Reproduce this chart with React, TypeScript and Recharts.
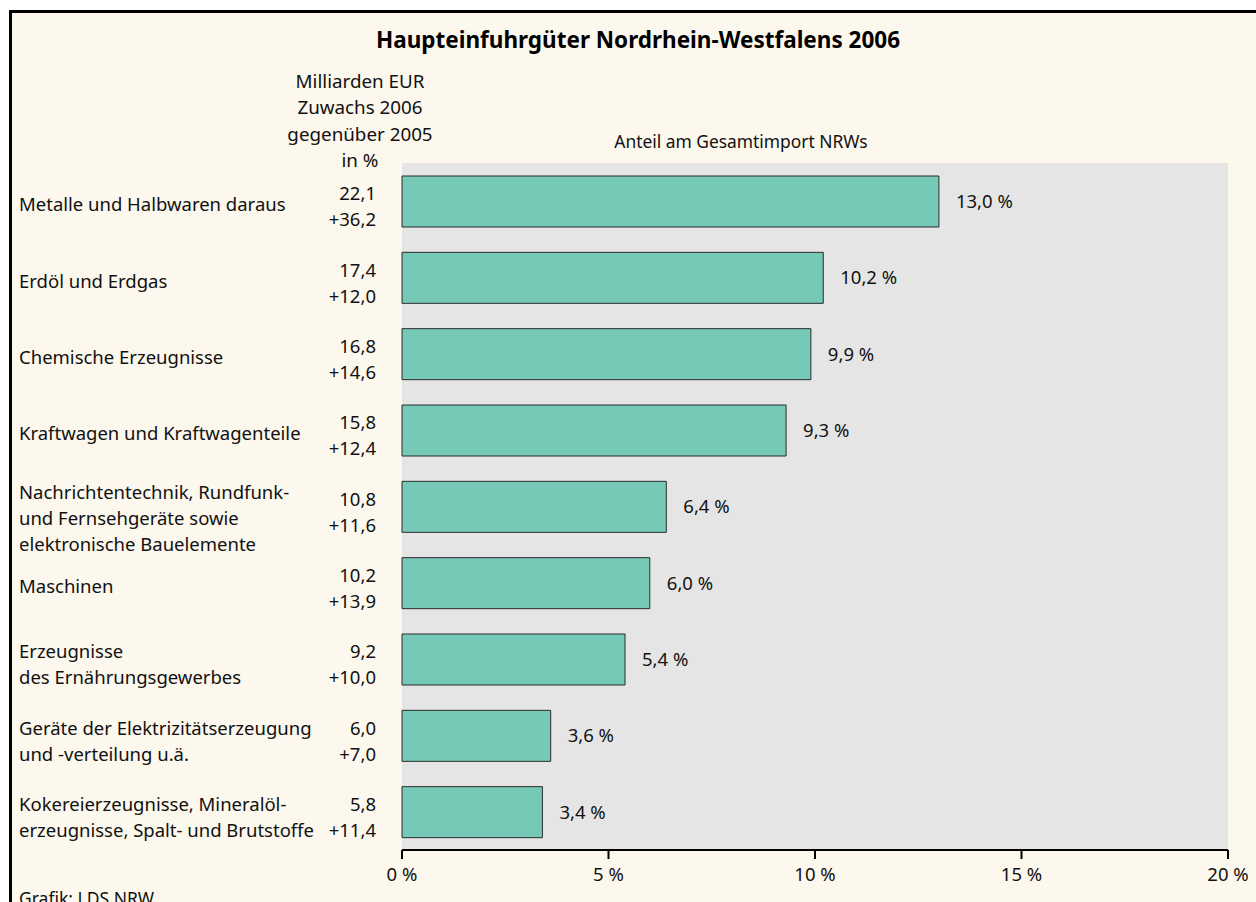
import React from 'react';
import { BarChart, Bar, XAxis, YAxis, CartesianGrid, LabelList } from 'recharts';

const categories: string[] = [
  'Metalle und Halbwaren daraus',
  'Erdöl und Erdgas',
  'Chemische Erzeugnisse',
  'Kraftwagen und Kraftwagenteile',
  'Nachrichtentechnik, Rundfunk-|und Fernsehgeräte sowie|elektronische Bauelemente',
  'Maschinen',
  'Erzeugnisse|des Ernährungsgewerbes',
  'Geräte der Elektrizitätserzeugung|und -verteilung u.ä.',
  'Kokereierzeugnisse, Mineralöl-|erzeugnisse, Spalt- und Brutstoffe',
];
const shares: number[] = [13.0, 10.2, 9.9, 9.3, 6.4, 6.0, 5.4, 3.6, 3.4];
const billionsEUR: string[] = ['22,1', '17,4', '16,8', '15,8', '10,8', '10,2', '9,2', '6,0', '5,8'];
const growth: string[] = ['+36,2', '+12,0', '+14,6', '+12,4', '+11,6', '+13,9', '+10,0', '+7,0', '+11,4'];
const xTicks: number[] = [0, 5, 10, 15, 20];
const headerLines: string[] = ['Milliarden EUR', 'Zuwachs 2006', 'gegenüber 2005', 'in %'];

const data = categories.map((name, i) => ({
  name,
  share: shares[i],
  eur: billionsEUR[i],
  growth: growth[i],
}));

const FONT = '"Noto Sans", "Open Sans", sans-serif';
const FS = 18.5;
const TEXT = '#111';

const fmt = (v: number) => v.toFixed(1).replace('.', ',');

const CategoryTick = (props: any) => {
  const { y, payload } = props;
  const row = data.find((d) => d.name === payload.value);
  if (!row) return null;
  const lines = row.name.split('|');
  const n = lines.length;
  let first: number;
  if (n === 1) first = 10;
  else if (n === 2) first = -1;
  else first = -8;
  return (
    <g>
      {lines.map((l, i) => (
        <text key={i} x={19} y={y + first + i * 26} fontSize={FS} fontFamily={FONT} fill={TEXT} textAnchor="start">
          {l}
        </text>
      ))}
      <text x={376} y={y - 1} fontSize={FS} fontFamily={FONT} fill={TEXT} textAnchor="end">
        {row.eur}
      </text>
      <text x={376} y={y + 25} fontSize={FS} fontFamily={FONT} fill={TEXT} textAnchor="end">
        {row.growth}
      </text>
    </g>
  );
};

const ValueLabel = (props: any) => {
  const { x, y, width, height, value } = props;
  return (
    <text
      x={x + width + 17}
      y={y + height / 2 + 6.5}
      fontSize={FS}
      fontFamily={FONT}
      fill={TEXT}
      textAnchor="start"
    >
      {`${fmt(value)} %`}
    </text>
  );
};

export default function App() {
  return (
    <div style={{ position: 'absolute', left: 0, top: 0, width: 1256, height: 902, overflow: 'hidden', background: '#fff' }}>
      <div
        style={{
          position: 'absolute',
          left: 9,
          top: 10,
          width: 1320,
          height: 1000,
          border: '3px solid #000',
          background: '#fcf8ed',
        }}
      />
      <div style={{ position: 'absolute', left: 0, top: 0 }}>
        <BarChart
          width={1256}
          height={902}
          data={data}
          layout="vertical"
          margin={{ top: 163, right: 28, bottom: 0, left: 0 }}
          barSize={51}
        >
          <CartesianGrid fill="#e5e5e5" horizontal={false} vertical={false} stroke="none" />
          <XAxis
            type="number"
            domain={[0, 20]}
            ticks={xTicks}
            height={52}
            tickFormatter={(v: number) => `${v} %`}
            axisLine={{ stroke: '#000', strokeWidth: 2 }}
            tickLine={{ stroke: '#000', strokeWidth: 2 }}
            tickSize={9}
            tickMargin={9}
            tick={{ fontSize: FS, fontFamily: FONT, fill: TEXT }}
            interval={0}
          />
          <YAxis
            type="category"
            dataKey="name"
            width={402}
            axisLine={false}
            tickLine={false}
            tick={<CategoryTick />}
            interval={0}
          />
          <Bar dataKey="share" fill="#76c9b7" stroke="#2b2b2b" strokeWidth={1} isAnimationActive={false}>
            <LabelList dataKey="share" content={<ValueLabel />} />
          </Bar>
        </BarChart>
      </div>
      <svg style={{ position: 'absolute', left: 0, top: 0 }} width={1256} height={902}>
        <text x={638} y={48} fontSize={22.5} fontWeight="bold" fontFamily={FONT} fill="#000" textAnchor="middle">
          Haupteinfuhrgüter Nordrhein-Westfalens 2006
        </text>
        {headerLines.map((l, i) => (
          <text key={i} x={360} y={88 + i * 26.3} fontSize={18.8} fontFamily={FONT} fill={TEXT} textAnchor="middle">
            {l}
          </text>
        ))}
        <text x={741} y={148} fontSize={17.4} fontFamily={FONT} fill={TEXT} textAnchor="middle">
          Anteil am Gesamtimport NRWs
        </text>
        <text x={19} y={905} fontSize={17.5} fontFamily={FONT} fill={TEXT} textAnchor="start">
          Grafik: LDS NRW
        </text>
      </svg>
    </div>
  );
}
